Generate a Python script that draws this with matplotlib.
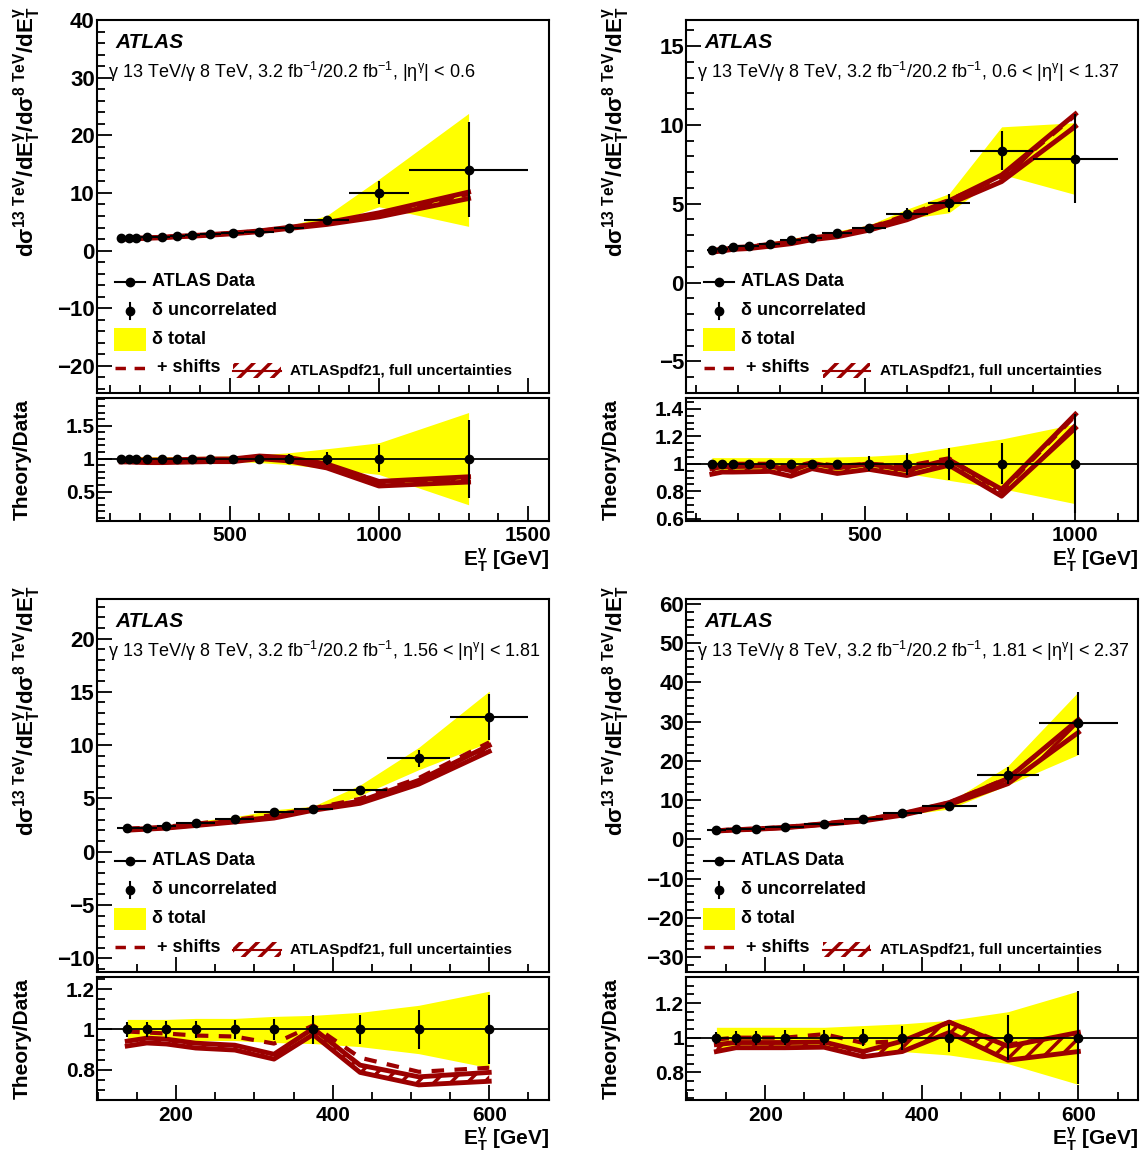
import numpy as np
import matplotlib
matplotlib.use('Agg')
import matplotlib.pyplot as plt
from matplotlib.ticker import MultipleLocator, FuncFormatter
from matplotlib.lines import Line2D
from matplotlib.patches import Rectangle

plt.rcParams['font.family'] = 'Liberation Sans'
plt.rcParams['font.weight'] = 'bold'
plt.rcParams['axes.labelweight'] = 'bold'
plt.rcParams['mathtext.fontset'] = 'custom'
plt.rcParams['mathtext.default'] = 'regular'
plt.rcParams['hatch.linewidth'] = 2.5

RED = '#9b0000'
YELLOW = '#ffff00'

# ---- data ----
edges_a = [125, 150, 175, 200, 250, 300, 350, 400, 470, 550, 650, 750, 900, 1100, 1500]
y_a = [2.10, 2.10, 2.18, 2.28, 2.36, 2.53, 2.63, 2.80, 3.05, 3.28, 3.98, 5.27, 10.0, 14.0]
unc_a = [0.02, 0.02, 0.02, 0.02, 0.02, 0.02, 0.02, 0.02, 0.025, 0.05, 0.07, 0.10, 0.20, 0.59]
tot_a = [0.03, 0.03, 0.03, 0.03, 0.03, 0.03, 0.035, 0.035, 0.04, 0.06, 0.09, 0.15, 0.24, 0.70]
th_a = [0.97, 0.97, 0.965, 0.96, 0.96, 0.965, 0.97, 0.975, 0.975, 1.02, 0.99, 0.89, 0.62, 0.685]
thw_a = [0.02, 0.02, 0.02, 0.02, 0.02, 0.02, 0.02, 0.02, 0.02, 0.02, 0.025, 0.03, 0.035, 0.04]
sh_a = [0.985, 0.98, 0.975, 0.97, 0.97, 0.975, 0.98, 0.985, 0.985, 1.04, 1.0, 0.90, 0.63, 0.70]

edges_b = [125, 150, 175, 200, 250, 300, 350, 400, 470, 550, 650, 750, 900, 1100]
y_b = [2.08, 2.14, 2.24, 2.29, 2.44, 2.71, 2.82, 3.12, 3.46, 4.35, 5.03, 8.37, 7.86]
unc_b = [0.02, 0.02, 0.02, 0.02, 0.02, 0.025, 0.025, 0.03, 0.055, 0.08, 0.115, 0.15, 0.36]
tot_b = [0.045, 0.045, 0.045, 0.045, 0.045, 0.045, 0.045, 0.05, 0.055, 0.07, 0.12, 0.18, 0.29]
th_b = [0.945, 0.96, 0.96, 0.962, 0.965, 0.93, 0.985, 0.95, 0.98, 0.935, 1.01, 0.79, 1.31]
thw_b = [0.02, 0.02, 0.02, 0.02, 0.02, 0.02, 0.02, 0.02, 0.02, 0.02, 0.02, 0.025, 0.05]
sh_b = [0.99, 0.995, 1.0, 1.0, 1.0, 0.975, 1.01, 0.985, 1.0, 0.985, 1.04, 0.80, 1.35]

edges_c = [125, 150, 175, 200, 250, 300, 350, 400, 470, 550, 650]
y_c = [2.19, 2.26, 2.38, 2.70, 3.10, 3.69, 3.98, 5.76, 8.74, 12.66]
unc_c = [0.035, 0.035, 0.04, 0.04, 0.045, 0.05, 0.07, 0.07, 0.095, 0.17]
tot_c = [0.05, 0.05, 0.05, 0.055, 0.055, 0.065, 0.07, 0.085, 0.12, 0.19]
th_c = [0.93, 0.945, 0.94, 0.92, 0.91, 0.865, 0.99, 0.805, 0.745, 0.765]
thw_c = [0.012, 0.012, 0.012, 0.012, 0.012, 0.012, 0.015, 0.018, 0.02, 0.022]
sh_c = [0.99, 0.985, 0.98, 0.97, 0.965, 0.93, 1.02, 0.86, 0.79, 0.81]

edges_d = [125, 150, 175, 200, 250, 300, 350, 400, 470, 550, 650]
y_d = [2.29, 2.54, 2.72, 3.13, 4.0, 5.27, 6.69, 8.58, 16.3, 29.6]
unc_d = [0.035, 0.04, 0.04, 0.045, 0.045, 0.05, 0.07, 0.08, 0.13, 0.27]
tot_d = [0.06, 0.06, 0.06, 0.06, 0.06, 0.07, 0.08, 0.10, 0.15, 0.27]
th_d = [0.94, 0.957, 0.957, 0.957, 0.96, 0.905, 0.95, 1.06, 0.91, 0.975]
thw_d = [0.02, 0.015, 0.015, 0.015, 0.015, 0.015, 0.03, 0.03, 0.04, 0.055]
sh_d = [0.99, 1.0, 1.0, 1.0, 1.02, 0.97, 0.98, 1.09, 0.96, 1.02]

eta_labels = ['|$\\eta^{\\gamma}$| < 0.6', '0.6 < |$\\eta^{\\gamma}$| < 1.37',
              '1.56 < |$\\eta^{\\gamma}$| < 1.81', '1.81 < |$\\eta^{\\gamma}$| < 2.37']

panels = [
    dict(edges=edges_a, y=y_a, unc=unc_a, tot=tot_a, th=th_a, thw=thw_a, sh=sh_a,
         xlim=(56.25, 1568.75), ylim=(-24.7, 40), rylim=(0.055, 1.92),
         xmaj=500, xmin=100, ymaj=10, ymin=2, rmaj=0.5, rmin=0.1, pos=(0.085, 0.6586)),
    dict(edges=edges_b, y=y_b, unc=unc_b, tot=tot_b, th=th_b, thw=thw_b, sh=sh_b,
         xlim=(76.25, 1148.75), ylim=(-7.0, 16.65), rylim=(0.585, 1.478),
         xmaj=500, xmin=100, ymaj=5, ymin=1, rmaj=0.2, rmin=0.05, pos=(0.6018, 0.6586)),
    dict(edges=edges_c, y=y_c, unc=unc_c, tot=tot_c, th=th_c, thw=thw_c, sh=sh_c,
         xlim=(98.75, 676.25), ylim=(-11.3, 23.7), rylim=(0.65, 1.26),
         xmaj=200, xmin=50, ymaj=5, ymin=1, rmaj=0.2, rmin=0.05, pos=(0.085, 0.1555)),
    dict(edges=edges_d, y=y_d, unc=unc_d, tot=tot_d, th=th_d, thw=thw_d, sh=sh_d,
         xlim=(98.75, 676.25), ylim=(-33.8, 61.2), rylim=(0.64, 1.35),
         xmaj=200, xmin=50, ymaj=10, ymin=2, rmaj=0.2, rmin=0.05, pos=(0.6018, 0.1555)),
]

fig = plt.figure(figsize=(11.4, 11.51), dpi=100)

W = 0.3965
HM = 0.324
HR = 0.1068
GAP = 0.0044

fmt = FuncFormatter(lambda v, pos: ('%g' % round(v, 6)).replace('-', '\u2212'))


def style(ax, xmaj, xmin, ymaj, ymin, ysize):
    ax.xaxis.set_major_locator(MultipleLocator(xmaj))
    ax.xaxis.set_minor_locator(MultipleLocator(xmin))
    ax.yaxis.set_major_locator(MultipleLocator(ymaj))
    ax.yaxis.set_minor_locator(MultipleLocator(ymin))
    ax.yaxis.set_major_formatter(fmt)
    ax.tick_params(which='both', direction='in', top=False, right=False, width=1.3)
    ax.tick_params(which='major', length=11)
    ax.tick_params(which='minor', length=6)
    ax.tick_params(axis='y', labelsize=ysize, pad=1.5)
    ax.tick_params(axis='x', labelsize=15, pad=4)
    for s in ax.spines.values():
        s.set_linewidth(1.5)


def legend(ax):
    t = ax.transAxes
    ax.add_line(Line2D([0.04, 0.106], [0.298, 0.298], transform=t, color='k', lw=1.5))
    ax.add_line(Line2D([0.073], [0.298], transform=t, color='k', marker='o', ms=6))
    ax.text(0.121, 0.298, 'ATLAS Data', transform=t, fontsize=13, va='center')
    ax.add_line(Line2D([0.073, 0.073], [0.198, 0.242], transform=t, color='k', lw=1.5))
    ax.add_line(Line2D([0.073], [0.22], transform=t, color='k', marker='o', ms=6))
    ax.text(0.121, 0.22, '\u03b4 uncorrelated', transform=t, fontsize=13, va='center')
    ax.add_patch(Rectangle((0.038, 0.113), 0.07, 0.06, transform=t, color=YELLOW, lw=0))
    ax.text(0.121, 0.143, '\u03b4 total', transform=t, fontsize=13, va='center')
    ax.add_line(Line2D([0.04, 0.106], [0.067, 0.067], transform=t, color=RED, lw=2.5,
                       ls=(0, (3, 2.5))))
    ax.text(0.132, 0.067, '+ shifts', transform=t, fontsize=13, va='center')
    ax.add_patch(Rectangle((0.302, 0.04), 0.105, 0.04, transform=t, facecolor='none',
                           edgecolor=RED, hatch='//', lw=0))
    ax.add_line(Line2D([0.302, 0.407], [0.06, 0.06], transform=t, color=RED, lw=1.5))
    ax.text(0.428, 0.059, 'ATLASpdf21, full uncertainties', transform=t, fontsize=11, va='center')


for i, p in enumerate(panels):
    x0, yb = p['pos']
    ax = fig.add_axes([x0, yb, W, HM])
    rax = fig.add_axes([x0, yb - GAP - HR, W, HR])

    edges = np.array(p['edges'], dtype=float)
    x = 0.5 * (edges[:-1] + edges[1:])
    xerr = 0.5 * (edges[1:] - edges[:-1])
    y = np.array(p['y'])
    unc = np.array(p['unc'])
    tot = np.array(p['tot'])
    th = np.array(p['th'])
    thw = np.array(p['thw'])
    sh = np.array(p['sh'])

    # main panel
    ax.fill_between(x, y * (1 - tot), y * (1 + tot), color=YELLOW, lw=0, zorder=1)
    ax.fill_between(x, y * (th - thw), y * (th + thw), facecolor='none', edgecolor=RED,
                    hatch='//', lw=0, zorder=2)
    ax.plot(x, y * (th - thw), color=RED, lw=3.5, zorder=2)
    ax.plot(x, y * (th + thw), color=RED, lw=3.5, zorder=2)
    ax.plot(x, y * sh, color=RED, lw=3, ls=(0, (3, 2.5)), zorder=2)
    ax.errorbar(x, y, xerr=xerr, yerr=y * unc, fmt='o', color='k', ms=6, lw=1.5,
                capsize=0, zorder=3)
    ax.set_xlim(p['xlim'])
    ax.set_ylim(p['ylim'])
    style(ax, p['xmaj'], p['xmin'], p['ymaj'], p['ymin'], 16)
    ax.tick_params(axis='x', labelbottom=False)

    ax.text(0.04, 0.941, 'ATLAS', transform=ax.transAxes, fontsize=15, style='italic',
            va='center')
    ax.text(0.025, 0.861, '$\\gamma$ 13 TeV/$\\gamma$ 8 TeV, 3.2 fb$^{-1}$/20.2 fb$^{-1}$, '
            + eta_labels[i], transform=ax.transAxes, fontsize=13, fontweight='normal',
            va='center')
    ax.text(-0.155, 1.035, '$d\\sigma^{13\\ TeV}/dE_{T}^{\\gamma}/d\\sigma^{8\\ TeV}/dE_{T}^{\\gamma}$',
            transform=ax.transAxes, rotation=90, ha='center', va='top', fontsize=16)
    legend(ax)

    # ratio panel
    rax.fill_between(x, 1 - tot, 1 + tot, color=YELLOW, lw=0, zorder=1)
    rax.fill_between(x, th - thw, th + thw, facecolor='none', edgecolor=RED,
                     hatch='//', lw=0, zorder=2)
    rax.plot(x, th - thw, color=RED, lw=3.5, zorder=2)
    rax.plot(x, th + thw, color=RED, lw=3.5, zorder=2)
    rax.plot(x, sh, color=RED, lw=3, ls=(0, (3, 2.5)), zorder=2)
    rax.axhline(1.0, color='k', lw=1.3, zorder=3)
    rax.errorbar(x, np.ones_like(x), yerr=unc, fmt='o', color='k', ms=6, lw=1.5,
                 capsize=0, zorder=4)
    rax.set_xlim(p['xlim'])
    rax.set_ylim(p['rylim'])
    style(rax, p['xmaj'], p['xmin'], p['rmaj'], p['rmin'], 15)
    rax.text(-0.165, 0.5, 'Theory/Data', transform=rax.transAxes, rotation=90,
             ha='center', va='center', fontsize=15)
    rax.text(1.0, -0.32, '$E_{T}^{\\gamma}$ [GeV]', transform=rax.transAxes,
             ha='right', va='center', fontsize=15)

fig.savefig('out.png', dpi=100)
